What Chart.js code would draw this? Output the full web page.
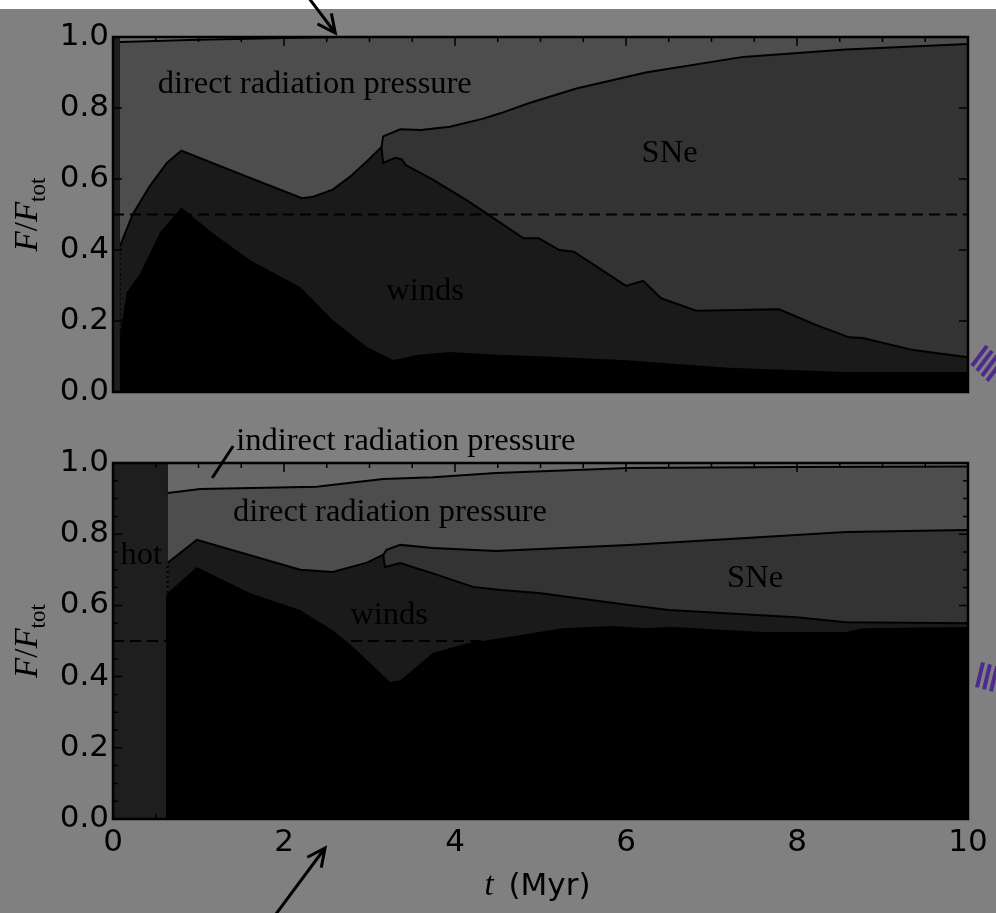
<!DOCTYPE html>
<html>
<head>
<meta charset="utf-8">
<script src="https://cdn.jsdelivr.net/npm/chart.js@4.4.1/dist/chart.umd.min.js"></script>
<style>
  html, body { margin: 0; padding: 0; }
  body { width: 996px; height: 913px; background: #808080; position: relative; overflow: hidden; }
  #strip { position: absolute; left: 0; top: 0; width: 996px; height: 9px; background: #fff; }
  canvas { position: absolute; left: 0; }
  #top { top: 0; }
  #bottom { top: 420px; }
</style>
</head>
<body>
<div id="strip"></div>
<canvas id="top" width="996" height="420"></canvas>
<canvas id="bottom" width="996" height="493"></canvas>
<script>
// t in Myr; each F array is the cumulative top edge of a band (F/F_tot)
// --- upper panel ---
const topHotT = [0, 0.08];
const topHotF = [1, 1];
const topBlackT = [0.08, 0.16, 0.32, 0.55, 0.8, 1.17, 1.6, 2.19, 2.57, 2.97, 3.28, 3.55, 3.94, 4.5, 5.06, 5.96, 7.2, 8.57, 10];
const topBlackF = [0.16, 0.28, 0.335, 0.45, 0.52, 0.447, 0.372, 0.296, 0.203, 0.127, 0.09, 0.104, 0.113, 0.105, 0.10, 0.09, 0.068, 0.056, 0.056];
const topWindsT = [0.08, 0.23, 0.43, 0.63, 0.8, 1.5, 2.21, 2.34, 2.57, 2.77, 2.97, 3.14, 3.16, 3.3, 3.38, 3.42, 3.75, 4.14, 4.48, 4.8, 4.98, 5.22, 5.39, 6.0, 6.2, 6.41, 6.82, 7.79, 8.22, 8.61, 8.77, 9.36, 10];
const topWindsF = [0.41, 0.50, 0.58, 0.645, 0.68, 0.613, 0.546, 0.55, 0.57, 0.606, 0.65, 0.69, 0.645, 0.66, 0.655, 0.64, 0.597, 0.54, 0.485, 0.433, 0.433, 0.40, 0.395, 0.299, 0.313, 0.264, 0.229, 0.233, 0.189, 0.154, 0.152, 0.118, 0.098];
const topSNeT = [3.14, 3.16, 3.36, 3.6, 3.94, 4.33, 4.53, 4.87, 5.42, 6.23, 7.37, 8.57, 10];
const topSNeF = [0.69, 0.72, 0.74, 0.738, 0.747, 0.77, 0.785, 0.814, 0.855, 0.90, 0.944, 0.965, 0.98];
const topDirectT = [0.08, 1, 2, 2.65, 10];
const topDirectF = [0.986, 0.992, 0.997, 1.0, 1.0];
const topIndirectT = [0.08, 10];
const topIndirectF = [1, 1];

// --- lower panel ---
const botHotT = [0, 0.62];
const botHotF = [1, 1];
const botBlackT = [0.62, 0.64, 0.98, 1.6, 2.19, 2.57, 2.81, 3.24, 3.36, 3.74, 4.14, 4.53, 5.26, 5.85, 6.23, 6.5, 7.6, 8.57, 8.77, 10];
const botBlackF = [0.624, 0.635, 0.708, 0.635, 0.587, 0.53, 0.483, 0.385, 0.39, 0.466, 0.494, 0.508, 0.536, 0.542, 0.536, 0.54, 0.525, 0.525, 0.536, 0.539];
const botWindsT = [0.64, 0.98, 2.19, 2.57, 2.97, 3.16, 3.18, 3.36, 3.74, 4.21, 4.53, 4.98, 6.03, 6.5, 7.99, 8.57, 10];
const botWindsF = [0.72, 0.784, 0.70, 0.694, 0.72, 0.742, 0.708, 0.719, 0.69, 0.652, 0.643, 0.635, 0.601, 0.587, 0.567, 0.553, 0.55];
const botSNeT = [3.16, 3.2, 3.36, 3.74, 4.48, 6.03, 7.6, 8.57, 10];
const botSNeF = [0.742, 0.756, 0.77, 0.761, 0.753, 0.77, 0.792, 0.806, 0.812];
const botDirectT = [0.64, 1.02, 2.38, 3.16, 3.74, 4.48, 6.03, 7.99, 10];
const botDirectF = [0.916, 0.927, 0.933, 0.955, 0.96, 0.972, 0.986, 0.989, 0.99];
const botIndirectT = [0.64, 10];
const botIndirectF = [1, 1];

const halfT = [0, 10];
const halfF = [0.5, 0.5];
const yTicks = [0, 0.2, 0.4, 0.6, 0.8, 1.0];
const xTicks = [0, 2, 4, 6, 8, 10];

const colors = {
  black: '#000000',
  winds: '#1a1a1a',
  hot: '#1e1e1e',
  sne: '#333333',
  direct: '#4d4d4d',
  indirect: '#686868'
};

function pts(t, f) {
  return t.map((x, i) => ({ x: x, y: f[i] }));
}

function band(label, t, f, color, lw) {
  return {
    label: label,
    data: pts(t, f),
    backgroundColor: color,
    borderColor: '#000',
    borderWidth: lw,
    fill: 'origin',
    pointRadius: 0,
    tension: 0
  };
}

function halfLine() {
  return {
    label: 'half',
    data: pts(halfT, halfF),
    borderColor: '#000',
    borderWidth: 2,
    borderDash: [11, 6],
    fill: false,
    pointRadius: 0
  };
}

function jump(t, f0, f1) {
  return {
    label: 'jump',
    data: [{ x: t, y: f0 }, { x: t, y: f1 }],
    borderColor: '#000',
    borderWidth: 2,
    borderDash: [2, 3],
    fill: false,
    pointRadius: 0
  };
}

function arrow(ctx, x0, y0, x1, y1) {
  const ang = Math.atan2(y1 - y0, x1 - x0);
  ctx.beginPath();
  ctx.moveTo(x0, y0);
  ctx.lineTo(x1, y1);
  ctx.moveTo(x1 - 20 * Math.cos(ang - 0.45), y1 - 20 * Math.sin(ang - 0.45));
  ctx.lineTo(x1, y1);
  ctx.lineTo(x1 - 20 * Math.cos(ang + 0.45), y1 - 20 * Math.sin(ang + 0.45));
  ctx.stroke();
}

function hatch(ctx, x0, y0, dx, dy, sx, sy, n) {
  ctx.save();
  ctx.strokeStyle = '#4e2a8e';
  ctx.lineWidth = 4;
  for (let i = 0; i < n; i++) {
    ctx.beginPath();
    ctx.moveTo(x0 + i * sx, y0 + i * sy);
    ctx.lineTo(x0 + i * sx + dx, y0 + i * sy + dy);
    ctx.stroke();
  }
  ctx.restore();
}

function decor(labels, minorY, extra) {
  return {
    id: 'decor',
    beforeDatasetsDraw(chart) {
      const a = chart.chartArea;
      chart.ctx.save();
      chart.ctx.fillStyle = colors.winds;
      chart.ctx.fillRect(a.left, a.top, a.right - a.left, a.bottom - a.top);
      chart.ctx.restore();
    },
    afterDraw(chart) {
      const ctx = chart.ctx, a = chart.chartArea;
      const xs = chart.scales.x, ys = chart.scales.y;
      ctx.save();
      ctx.strokeStyle = '#000';
      ctx.lineWidth = 1.5;
      ctx.beginPath();
      for (let v = 0; v <= 10.001; v += 0.5) {
        const px = xs.getPixelForValue(v);
        const len = Math.abs(v / 2 - Math.round(v / 2)) < 1e-6 ? 9 : 5;
        ctx.moveTo(px, a.top); ctx.lineTo(px, a.top + len);
        ctx.moveTo(px, a.bottom); ctx.lineTo(px, a.bottom - len);
      }
      const step = minorY ? 0.05 : 0.2;
      for (let v = 0; v <= 1.0001; v += step) {
        const py = ys.getPixelForValue(v);
        const len = Math.abs(v / 0.2 - Math.round(v / 0.2)) < 1e-6 ? 9 : 5;
        ctx.moveTo(a.left, py); ctx.lineTo(a.left + len, py);
        ctx.moveTo(a.right, py); ctx.lineTo(a.right - len, py);
      }
      ctx.stroke();
      ctx.lineWidth = 2.5;
      ctx.strokeRect(a.left, a.top, a.right - a.left, a.bottom - a.top);

      ctx.fillStyle = '#000';
      ctx.font = '32.5px "Liberation Serif"';
      ctx.textAlign = 'center';
      ctx.textBaseline = 'middle';
      labels.forEach(l => ctx.fillText(l.text, xs.getPixelForValue(l.t), ys.getPixelForValue(l.f)));

      // y axis title F/F_tot
      ctx.save();
      ctx.translate(37, (a.top + a.bottom) / 2);
      ctx.rotate(-Math.PI / 2);
      ctx.textAlign = 'left';
      ctx.textBaseline = 'alphabetic';
      const parts = [
        ['F', 'italic 33px "Liberation Serif"', 0],
        ['/', '33px "Liberation Serif"', 0],
        ['F', 'italic 33px "Liberation Serif"', 0],
        ['tot', '23px "Liberation Serif"', 8]
      ];
      let w = 0;
      parts.forEach(p => { ctx.font = p[1]; w += ctx.measureText(p[0]).width; });
      let px = -w / 2;
      parts.forEach(p => {
        ctx.font = p[1];
        ctx.fillText(p[0], px, p[2]);
        px += ctx.measureText(p[0]).width;
      });
      ctx.restore();

      if (extra) extra(chart, ctx, a, xs, ys);
      ctx.restore();
    }
  };
}

function config(datasets, xShow, pad, plugin) {
  return {
    type: 'line',
    data: { datasets: datasets },
    options: {
      responsive: false,
      animation: false,
      layout: { padding: pad },
      plugins: { legend: { display: false }, tooltip: { enabled: false } },
      scales: {
        x: {
          type: 'linear',
          min: 0,
          max: 10,
          display: xShow,
          afterBuildTicks: s => { s.ticks = xTicks.map(v => ({ value: v })); },
          afterFit: s => { s.height = xShow ? 94 : 0; },
          grid: { display: false, drawTicks: false },
          border: { display: false },
          ticks: {
            color: '#000',
            padding: 5,
            maxRotation: 0,
            font: { family: 'DejaVu Sans', size: 31 },
            callback: v => String(v)
          }
        },
        y: {
          min: 0,
          max: 1,
          afterBuildTicks: s => { s.ticks = yTicks.map(v => ({ value: v })); },
          afterFit: s => { s.width = 113; },
          grid: { display: false, drawTicks: false },
          border: { display: false },
          ticks: {
            color: '#000',
            padding: 4,
            font: { family: 'DejaVu Sans', size: 31 },
            callback: v => v.toFixed(1)
          }
        }
      }
    },
    plugins: [plugin]
  };
}

new Chart(document.getElementById('top'), config([
  halfLine(),
  band('hot', topHotT, topHotF, colors.hot, 0),
  jump(topWindsT[0], topBlackF[0], topWindsF[0]),
  band('', topBlackT, topBlackF, colors.black, 0),
  band('winds', topWindsT, topWindsF, colors.winds, 2),
  band('SNe', topSNeT, topSNeF, colors.sne, 2),
  band('direct radiation pressure', topDirectT, topDirectF, colors.direct, 2),
  band('indirect radiation pressure', topIndirectT, topIndirectF, colors.indirect, 0)
], false, { left: 0, top: 37, right: 28, bottom: 28 }, decor([
  { text: 'direct radiation pressure', t: 2.36, f: 0.865 },
  { text: 'SNe', t: 6.51, f: 0.673 },
  { text: 'winds', t: 3.65, f: 0.282 }
], false, (chart, ctx, a, xs, ys) => {
  ctx.strokeStyle = '#000';
  ctx.lineWidth = 3;
  const tx = xs.getPixelForValue(2.6), ty = a.top - 4;
  arrow(ctx, tx - 28, -4, tx, ty);
  hatch(ctx, a.right + 19, ys.getPixelForValue(0.13), -15, 20, 5, 5, 4);
})));

new Chart(document.getElementById('bottom'), config([
  halfLine(),
  band('hot', botHotT, botHotF, colors.hot, 0),
  jump(botWindsT[0], botBlackF[1], botWindsF[0]),
  band('', botBlackT, botBlackF, colors.black, 0),
  band('winds', botWindsT, botWindsF, colors.winds, 2),
  band('SNe', botSNeT, botSNeF, colors.sne, 2),
  band('direct radiation pressure', botDirectT, botDirectF, colors.direct, 2),
  band('indirect radiation pressure', botIndirectT, botIndirectF, colors.indirect, 0)
], true, { left: 0, top: 43, right: 28, bottom: 0 }, decor([
  { text: 'direct radiation pressure', t: 3.24, f: 0.86 },
  { text: 'hot', t: 0.33, f: 0.739 },
  { text: 'winds', t: 3.23, f: 0.573 },
  { text: 'SNe', t: 7.51, f: 0.677 }
], true, (chart, ctx, a, xs, ys) => {
  ctx.strokeStyle = '#000';
  ctx.fillStyle = '#000';
  ctx.lineWidth = 3;
  // pointer for the indirect band
  const px = xs.getPixelForValue(1.16);
  ctx.beginPath();
  ctx.moveTo(px + 21, a.top - 17);
  ctx.lineTo(px, a.top + 15);
  ctx.stroke();
  ctx.font = '32.5px "Liberation Serif"';
  ctx.textAlign = 'left';
  ctx.textBaseline = 'alphabetic';
  ctx.fillText('indirect radiation pressure', px + 24, a.top - 13);

  // x axis title: t (Myr)
  const cx = (a.left + a.right) / 2 - 56;
  const by = a.bottom + 76;
  ctx.font = 'italic 33px "Liberation Serif"';
  ctx.fillText('t', cx, by);
  ctx.font = '31px "DejaVu Sans"';
  ctx.fillText('(Myr)', cx + 24, by);

  const tx = xs.getPixelForValue(2.48), ty = a.bottom + 29;
  arrow(ctx, tx - 52, ty + 70, tx, ty);
  hatch(ctx, a.right + 15, ys.getPixelForValue(0.44), -6, 25, 7, 2, 3);
})));
</script>
</body>
</html>
